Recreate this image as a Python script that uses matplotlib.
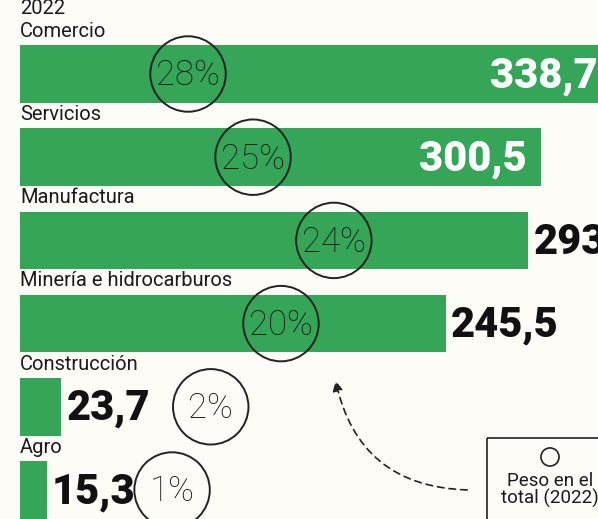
import matplotlib
matplotlib.use("Agg")
import matplotlib.pyplot as plt
from matplotlib.patches import FancyArrowPatch, Rectangle
from matplotlib import font_manager

# ---- data ----
categories = ["Comercio", "Servicios", "Manufactura", "Minería e hidrocarburos", "Construcción", "Agro"]
values = [338.7, 300.5, 293.0, 245.5, 23.7, 15.3]
value_labels = ["338,7", "300,5", "293", "245,5", "23,7", "15,3"]
shares = ["28%", "25%", "24%", "20%", "2%", "1%"]
year_label = "2022"
legend_text = "Peso en el\ntotal (2022)"

# ---- layout (not data) ----
circle_x = [96.9, 134.4, 181.0, 150.5, 110.0, 87.7]   # circle centres in value units
label_inside = [True, True, False, False, False, False]

names = {f.name for f in font_manager.fontManager.ttflist}
num_family = "Liberation Sans Narrow" if "Liberation Sans Narrow" in names else "Roboto"

W, H = 598, 519
fig = plt.figure(figsize=(W / 100, H / 100), dpi=100)
bg = "#fdfcf6"
fig.patch.set_facecolor(bg)
ax = fig.add_axes([0, 0, 1, 1])
ax.set_facecolor(bg)

px_per_unit = 1.734
x0 = 20
ax.set_xlim(-x0 / px_per_unit, (W - x0) / px_per_unit)
pitch = 83.2
c0 = 74
ax.set_ylim((H - c0) / pitch, -c0 / pitch)
ax.axis("off")

green = "#35a657"
ys = list(range(len(categories)))
ax.barh(ys, values, height=0.69, color=green, zorder=1)

num_font = dict(family=num_family, weight="heavy", size=30)
for y, v, lab, inside in zip(ys, values, value_labels, label_inside):
    if inside:
        ax.text(v - 8 if v < 330 else 333.3, y + 0.02, lab, ha="right", va="center",
                color="white", zorder=4, **num_font)
    else:
        ax.text(v + 3, y + 0.02, lab, ha="left", va="center", color="#111111",
                zorder=4, **num_font)

# category labels above bars
for y, c in zip(ys, categories):
    ax.text(0, y - 0.40, c, ha="left", va="bottom", fontsize=14.5,
            family="Roboto", color="#1a1a1a", zorder=4)
ax.text(0, -0.40 - 0.27, year_label, ha="left", va="bottom", fontsize=14.5,
        family="Roboto", color="#1a1a1a", zorder=4)

# share circles
ax.scatter(circle_x, ys, s=2950, facecolors="none", edgecolors="#222222",
           linewidths=1.4, zorder=3)
for cx, y, s in zip(circle_x, ys, shares):
    ax.text(cx, y + 0.02, s, ha="center", va="center", fontsize=25,
            family="Roboto", weight="light", color="#1a1a1a", zorder=4)

# overlay axes in pixel units for legend & arrow
ov = fig.add_axes([0, 0, 1, 1], facecolor="none")
ov.set_xlim(0, W)
ov.set_ylim(H, 0)
ov.axis("off")
ov.add_patch(Rectangle((487, 438), 140, 100, fill=False, ec="#222222", lw=1.2))
ov.scatter([550], [457], s=170, facecolors="none", edgecolors="#222222", linewidths=1.2)
ov.text(550, 490, legend_text, ha="center", va="center", fontsize=13.5,
        family="Roboto", color="#1a1a1a", linespacing=0.95)
arr = FancyArrowPatch((470, 490), (335, 378), connectionstyle="arc3,rad=-0.4",
                      arrowstyle="-|>,head_length=6,head_width=3", linestyle=(0, (4, 3)),
                      color="#222222", lw=1.2)
ov.add_patch(arr)

fig.savefig("out.png", dpi=100, facecolor=bg)
